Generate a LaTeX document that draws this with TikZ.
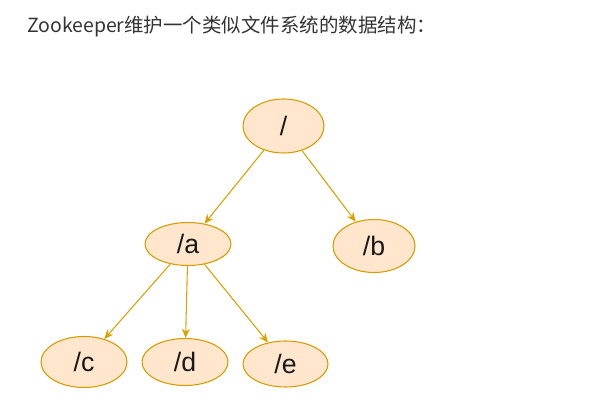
\documentclass[tikz,border=0pt]{standalone}
\usepackage{fontspec}
\setmainfont{Liberation Sans}
\newfontfamily\cjk{Noto Sans CJK SC}
\usetikzlibrary{shapes.geometric,arrows.meta}
\definecolor{nodefill}{HTML}{FFE6CC}
\definecolor{nodeline}{HTML}{D79B00}
\definecolor{edgeline}{HTML}{D9A200}
\definecolor{titletext}{HTML}{333333}
\tikzset{
  znode/.style={ellipse, draw=nodeline, fill=nodefill, line width=0.8pt, inner sep=0pt,
    font=\fontsize{20}{24}\selectfont, text=black!90},
  zedge/.style={draw=edgeline, line width=0.8pt, -{Stealth[length=7pt,width=6pt]}}
}
\begin{document}
\begin{tikzpicture}[x=0.75pt,y=-0.75pt]
\useasboundingbox (0,0) rectangle (611,420);
\node[anchor=base west, text=titletext, font=\cjk\fontsize{14.6}{17}\selectfont, inner sep=0pt] (title) at (27,33) {Zookeeper维护一个类似文件系统的数据结构：};
\node[znode, minimum width=81*0.75pt, minimum height=54*0.75pt] (root) at (283.5,126) {/};
\node[znode, minimum width=86*0.75pt, minimum height=43*0.75pt] (a) at (188,244) {/a};
\node[znode, minimum width=82*0.75pt, minimum height=53*0.75pt] (b) at (374,246) {/b};
\node[znode, minimum width=86*0.75pt, minimum height=51*0.75pt] (c) at (84,362) {/c};
\node[znode, minimum width=86*0.75pt, minimum height=47*0.75pt] (d) at (185,362) {/d};
\node[znode, minimum width=85*0.75pt, minimum height=46*0.75pt] (e) at (285.5,364) {/e};
\draw[zedge] (root) -- (a);
\draw[zedge] (root) -- (b);
\draw[zedge] (a) -- (c);
\draw[zedge] (a) -- (d);
\draw[zedge] (a) -- (e);
\end{tikzpicture}
\end{document}
